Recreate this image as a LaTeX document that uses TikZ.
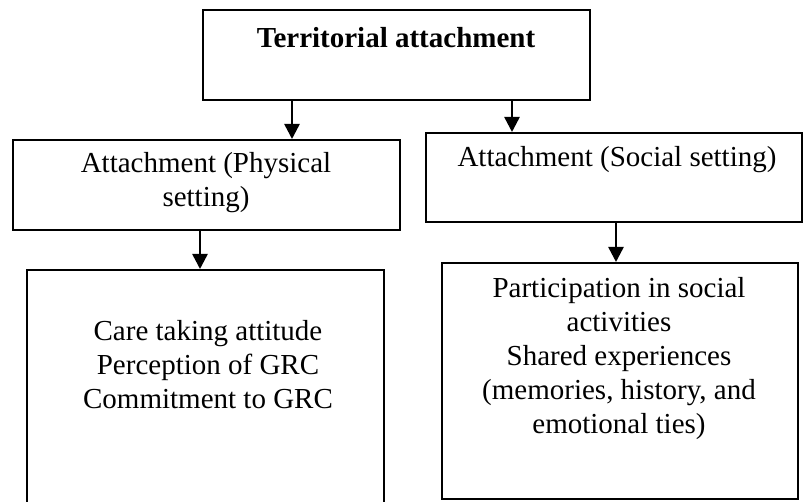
\documentclass[tikz,border=0pt]{standalone}
\usepackage{fontspec}
\setmainfont{Liberation Serif}
\usetikzlibrary{arrows.meta}
\begin{document}
\begin{tikzpicture}[x=1pt,y=-1pt,
  box/.style={draw, line width=2pt, rectangle, inner sep=0pt, anchor=north west},
  txt/.style={inner sep=0pt, anchor=base, align=center, font=\fontsize{29pt}{34pt}\selectfont},
  arr/.style={line width=2.5pt, -{Triangle[width=15pt,length=15pt]}}]
  \clip (0,0) rectangle (803,502);
  % boxes
  \node[box, minimum width=387pt, minimum height=90pt] (top) at (202,9) {};
  \node[box, minimum width=387pt, minimum height=90pt] (phys) at (12,139) {};
  \node[box, minimum width=376pt, minimum height=89pt] (soc) at (425,132) {};
  \node[box, minimum width=357pt, minimum height=270pt] (physlow) at (26,269) {};
  \node[box, minimum width=356pt, minimum height=236pt] (soclow) at (441,262) {};
  % texts (base anchor sits on the last line's baseline)
  \node[txt, font=\fontsize{29pt}{34pt}\selectfont\bfseries] (ttop) at (396,48) {Territorial attachment};
  \node[txt] (tphys) at (206,207) {Attachment (Physical\\setting)};
  \node[txt] (tsoc) at (617,167) {Attachment (Social setting)};
  \node[txt] (tphyslow) at (208,408) {Care taking attitude\\Perception of GRC\\Commitment to GRC};
  \node[txt] (tsoclow) at (619,433) {Participation in social\\activities\\Shared experiences\\(memories, history, and\\emotional ties)};
  % arrow columns
  \coordinate (c1) at (292,0);
  \coordinate (c2) at (512,0);
  \coordinate (c3) at (200,0);
  \coordinate (c4) at (616,0);
  \draw[arr] (c1 |- top.south) -- (c1 |- phys.north);
  \draw[arr] (c2 |- top.south) -- (c2 |- soc.north);
  \draw[arr] (c3 |- phys.south) -- (c3 |- physlow.north);
  \draw[arr] (c4 |- soc.south) -- (c4 |- soclow.north);
\end{tikzpicture}
\end{document}
